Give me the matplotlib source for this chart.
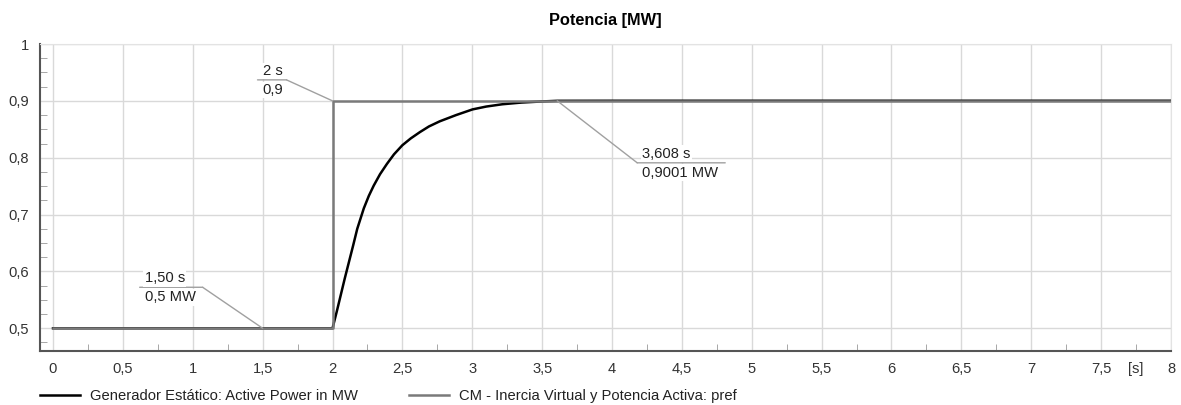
import matplotlib.pyplot as plt
from matplotlib.ticker import MultipleLocator, FuncFormatter
from matplotlib.transforms import offset_copy

plt.rcParams['font.family'] = ['Liberation Sans', 'DejaVu Sans']

# Datos
t_gen = [0, 1.5, 2.0, 2.03, 2.059, 2.088, 2.118, 2.148, 2.177, 2.224, 2.26, 2.295, 2.34,
         2.389, 2.44, 2.5, 2.56, 2.625, 2.69, 2.767, 2.884, 3.002, 3.1, 3.214, 3.35, 3.5,
         3.608, 4.0, 5.0, 6.0, 7.0, 8.0]
p_gen = [0.5, 0.5, 0.5, 0.529, 0.5585, 0.588, 0.617, 0.646, 0.675, 0.711, 0.733, 0.751, 0.771,
         0.789, 0.806, 0.822, 0.834, 0.845, 0.855, 0.864, 0.875, 0.885, 0.890, 0.894, 0.897, 0.899,
         0.9001, 0.9002, 0.9002, 0.9002, 0.9002, 0.9002]
t_ref = [0, 2, 2, 8]
p_ref = [0.5, 0.5, 0.9, 0.9]

etiquetas = [
    # (x, y, texto arriba, texto abajo, dx, dy, largo)  -> desplazamientos en pixeles
    (1.5, 0.5, '1,50 s', '0,5 MW', -60, 41, -63),
    (2.0, 0.9, '2 s', '0,9', -46, 21, -29),
    (3.608, 0.9001, '3,608 s', '0,9001 MW', 80, -62, 88),
]

coma = FuncFormatter(lambda v, pos: ('%g' % round(v, 3)).replace('.', ','))
fs = 10.6

fig = plt.figure(figsize=(11.81, 4.05), dpi=100)
ax = fig.add_axes([0.0339, 0.1333, 0.9576, 0.758])

ax.plot(t_gen, p_gen, color='black', lw=1.8, label='Generador Estático: Active Power in MW', zorder=3)
ax.plot(t_ref, p_ref, color='#7a7a7a', lw=1.8, label='CM - Inercia Virtual y Potencia Activa: pref', zorder=4)

ax.set_xlim(-0.093, 8)
ax.set_ylim(0.46, 1.0)
ax.xaxis.set_major_locator(MultipleLocator(0.5))
ax.xaxis.set_minor_locator(MultipleLocator(0.25))
ax.yaxis.set_major_locator(MultipleLocator(0.1))
ax.yaxis.set_minor_locator(MultipleLocator(0.025))
ax.xaxis.set_major_formatter(coma)
ax.yaxis.set_major_formatter(coma)
ax.grid(True, which='major', color='#d9d9d9', lw=1)
ax.tick_params(which='major', length=0, labelsize=fs, colors='#333333', pad=8)
ax.tick_params(which='minor', direction='in', length=5, color='#999999')
for s in ['top', 'right']:
    ax.spines[s].set_color('#e3e3e3')
for s in ['left', 'bottom']:
    ax.spines[s].set_color('#555555')
    ax.spines[s].set_linewidth(1.5)

ax.text(7.75, -0.037, '[s]', transform=ax.get_xaxis_transform(), ha='center', va='top',
        fontsize=fs, color='#333333')

ax.set_title('Potencia [MW]', fontsize=11.8, fontweight='bold', pad=14)

# Etiquetas de cursor
for x, y, arriba, abajo, dx, dy, largo in etiquetas:
    linea = dict(arrowstyle='-', color='#a0a0a0', lw=1, shrinkA=0, shrinkB=0)
    ax.annotate('', xy=(x, y), xytext=(dx, dy), textcoords='offset pixels',
                arrowprops=linea, zorder=5)
    codo = offset_copy(ax.transData, fig=fig, x=dx, y=dy, units='dots')
    ax.annotate('', xy=(x, y), xycoords=codo, xytext=(largo, 0), textcoords='offset pixels',
                arrowprops=linea, zorder=5)
    xi = dx + min(0, largo) + 5
    for txt, off, va in [(arriba, 2, 'bottom'), (abajo, -3, 'top')]:
        tr = offset_copy(ax.transData, fig=fig, x=xi, y=dy + off, units='dots')
        ax.text(x, y, txt, transform=tr, ha='left', va=va, fontsize=fs, color='#222222',
                bbox=dict(facecolor='white', edgecolor='none', pad=1), zorder=6)

ax.legend(loc='upper left', bbox_to_anchor=(-0.0055, -0.105), ncol=2, frameon=False,
          fontsize=fs, handlelength=2.72, handletextpad=0.68, columnspacing=3.5,
          borderaxespad=0, labelcolor='#222222')

fig.savefig('out.png', dpi=100)
